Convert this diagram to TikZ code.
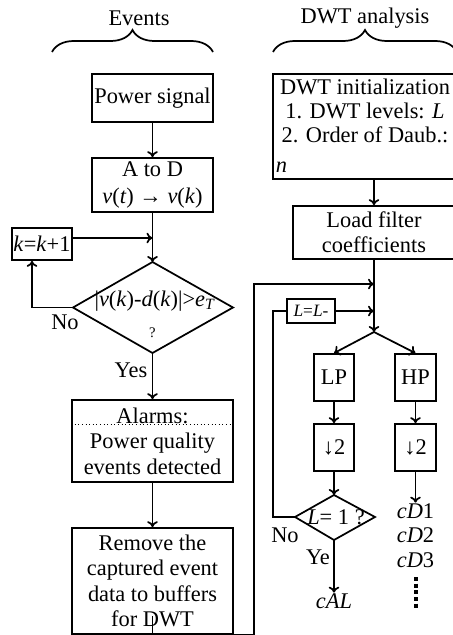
\documentclass[tikz,border=0pt]{standalone}
\usepackage{fontspec}
\setmainfont{Liberation Serif}
\usetikzlibrary{decorations.pathreplacing,arrows.meta}
\tikzset{
  every node/.style={font=\fontsize{16.8}{19}\selectfont},
  box/.style={draw,line width=1.3pt,inner sep=0pt,align=center},
  txt/.style={inner sep=0pt,align=center},
  brc/.style={decorate,decoration={brace,amplitude=16.5pt}},
}
\begin{document}
\begin{tikzpicture}[x=0.75pt,y=-0.75pt,line width=1.3pt,>={To[length=4.5pt,width=8pt]}]
\def\pix{0.75pt}
\useasboundingbox (0,0) rectangle (453,635);
% headings
\draw[brc] (52,52) -- (213,52);
\draw[brc] (273,52) -- (457,52);
\node[txt] (evt) at (139,18) {Events};
\node[txt] (dwta) at (365,18) {DWT analysis};
% event detection
\node[box,minimum width=121*\pix,minimum height=48*\pix] (power) at (152.5,98) {Power signal};
\node[box,minimum width=121*\pix,minimum height=54*\pix,font=\fontsize{16.8}{20}\selectfont] (atod) at (152.5,185) {A to D\\\textit{v}(\textit{t}) → \textit{v}(\textit{k})};
\node[box,minimum width=60*\pix,minimum height=32*\pix] (kbox) at (42,244) {\textit{k}=\textit{k}+1};
\coordinate (dtop) at (152.5,262);
\coordinate (dleft) at (73,307.5);
\coordinate (dright) at (233,307.5);
\coordinate (dbot) at (152.5,353);
\draw (dtop) -- (dright) -- (dbot) -- (dleft) -- cycle;
\node[txt] (cond) at (155,301) {|\textit{v}(\textit{k})-\textit{d}(\textit{k})|>\textit{e}\textsubscript{\textit{T}}};
\node[txt,font=\fontsize{11}{13}\selectfont] (q) at (152.5,333) {?};
\node[txt] (no1) at (65,322) {No};
\node[txt] (yes1) at (131,370) {Yes};
\node[box,minimum width=161*\pix,minimum height=82*\pix] (alarm) at (152.5,441) {Alarms:\\Power quality\\events detected};
\draw[dotted,line width=0.7pt] (alarm.west |- 0,424) -- (alarm.east |- 0,424);
\node[box,minimum width=161*\pix,minimum height=106*\pix] (remove) at (152.5,581) {Remove the\\captured event\\data to buffers\\for DWT};
% DWT analysis
\node[box,minimum width=183*\pix,minimum height=105*\pix] (dwtinit) at (364.5,126.5) {};
\node[txt,font=\fontsize{16.8}{18}\selectfont] (dwtt) at (365,111) {DWT initialization\\1. DWT levels: \textit{L}\\2. Order of Daub.:};
\node[txt,anchor=west] (dwtn) at (275,167) {\textit{n}};
\node[box,minimum width=162*\pix,minimum height=53*\pix] (load) at (374,232.5) {Load filter\\coefficients};
\node[box,minimum width=48*\pix,minimum height=24*\pix,font=\fontsize{13}{15}\selectfont] (lbox) at (311,311) {\textit{L}=\textit{L}-};
\coordinate (split) at (374,332);
\node[box,minimum width=40*\pix,minimum height=47*\pix] (lp) at (334,377.5) {LP};
\node[box,minimum width=41*\pix,minimum height=47*\pix] (hp) at (415.5,377.5) {HP};
\node[box,minimum width=40*\pix,minimum height=47*\pix] (lpds) at (334,447.5) {↓2};
\node[box,minimum width=41*\pix,minimum height=47*\pix] (hpds) at (415.5,447.5) {↓2};
\coordinate (sdtop) at (334,495);
\coordinate (sdleft) at (295,517);
\coordinate (sdright) at (375,517);
\coordinate (sdbot) at (334,540);
\draw (sdtop) -- (sdright) -- (sdbot) -- (sdleft) -- cycle;
\node[txt] (lcond) at (336,517) {\textit{L}= 1 ?};
\node[txt] (no2) at (285,535) {No};
\node[txt] (yes2) at (318,557) {Ye};
\node[txt] (cal) at (334,601) {\textit{cAL}};
\node[txt] (cd1) at (415.5,511) {\textit{cD}1};
\node[txt] (cd2) at (415.5,535) {\textit{cD}2};
\node[txt] (cd3) at (415.5,560) {\textit{cD}3};
\draw[line width=3pt,dash pattern=on 3pt off 2pt] (415.5,577) -- (415.5,609);
% connectors
\draw[->] (power) -- (atod);
\draw[->] (atod) -- (dtop);
\draw[->] ([yshift=4.5pt]kbox.east) -- ([yshift=4.5pt]kbox.east -| dtop);
\draw[->] (dleft) -| ([xshift=-7.5pt]kbox.south);
\draw[->] (dbot) -- (alarm);
\draw[->] (alarm) -- (remove);
\coordinate (ret) at (254,284);
\draw[->] ([yshift=14pt]remove.south) -- (remove.south) -| (ret) -- (ret -| split);
\draw[->] (load.north |- dwtinit.south) -- (load.north);
\draw[->] (load) -- (split);
\coordinate (lret) at (273,517);
\draw (sdleft) -- (lret) |- (lbox.west);
\draw[->] (lbox.east) -- (lbox.east -| split);
\draw[->] (split) -- (lp.north);
\draw[->] (split) -- (hp.north);
\draw[->] (lp) -- (lpds);
\draw[->] (hp) -- (hpds);
\draw[->] (lpds) -- (sdtop);
\draw[->] (sdbot) -- (cal);
\draw[->] (hpds) -- (cd1);
\end{tikzpicture}
\end{document}
